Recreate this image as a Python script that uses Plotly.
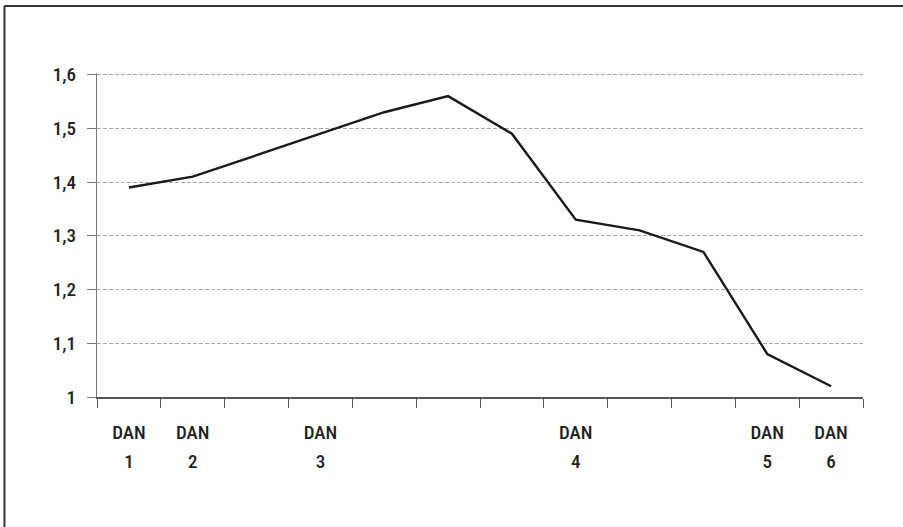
import plotly.graph_objects as go

positions = list(range(12))
values = [1.39, 1.41, 1.45, 1.49, 1.53, 1.56, 1.49, 1.33, 1.31, 1.27, 1.08, 1.02]
label_top = ["DAN", "DAN", "", "DAN", "", "", "", "DAN", "", "", "DAN", "DAN"]
label_bottom = ["1", "2", "", "3", "", "", "", "4", "", "", "5", "6"]
boundaries = [i - 0.5 for i in range(13)]
y_ticks = [1.0, 1.1, 1.2, 1.3, 1.4, 1.5, 1.6]

FONT = "Liberation Sans Narrow, Roboto Condensed, Noto Sans Condensed, Roboto, sans-serif"
TXT = "#1f1f1f"

fig = go.Figure()
fig.add_trace(go.Scatter(x=positions, y=values, mode="lines",
                         line=dict(color="#1a1a1a", width=2.4), showlegend=False,
                         hoverinfo="skip"))
fig.add_trace(go.Scatter(x=positions, y=values, mode="lines", xaxis="x2",
                         line=dict(color="rgba(0,0,0,0)", width=0), showlegend=False,
                         hoverinfo="skip"))

fig.update_layout(
    width=903, height=527,
    margin=dict(l=97, r=40, t=73.4, b=130),
    paper_bgcolor="white", plot_bgcolor="white",
    separators=",.",
    font=dict(family=FONT, size=19, color=TXT, weight=500),
    xaxis=dict(range=[-0.5, 11.5], tickmode="array", tickvals=positions,
               ticktext=label_top, ticks="", showgrid=False, zeroline=False,
               showline=True, linecolor="#555", linewidth=1.5,
               ticklabelstandoff=17,
               minor=dict(tickmode="array", tickvals=boundaries, ticks="outside",
                          ticklen=9, tickcolor="#555", tickwidth=1.2, showgrid=False)),
    xaxis2=dict(range=[-0.5, 11.5], overlaying="x", anchor="y", side="bottom",
                tickmode="array", tickvals=positions, ticktext=label_bottom,
                ticks="", showgrid=False, zeroline=False, showline=False,
                ticklabelstandoff=51),
    yaxis=dict(range=[1.0, 1.603], tickmode="array", tickvals=y_ticks,
               ticks="outside", ticklen=9, tickcolor="#777", tickwidth=1,
               showline=True, linecolor="#777", linewidth=1.2,
               showgrid=True, gridcolor="#a8a8a8", gridwidth=1, griddash="4px,2px",
               zeroline=False, ticklabelstandoff=7),
    shapes=[
        dict(type="line", xref="paper", yref="paper", x0=-0.1208, x1=1.06,
             y0=1.2067, y1=1.2067, line=dict(color="#333", width=2)),
        dict(type="line", xref="paper", yref="paper", x0=-0.1208, x1=-0.1208,
             y0=1.2067, y1=-0.41, line=dict(color="#333", width=2)),
    ],
)

fig.write_html("out.html", config={"displayModeBar": False},
               post_script="document.body.style.margin='0';")
